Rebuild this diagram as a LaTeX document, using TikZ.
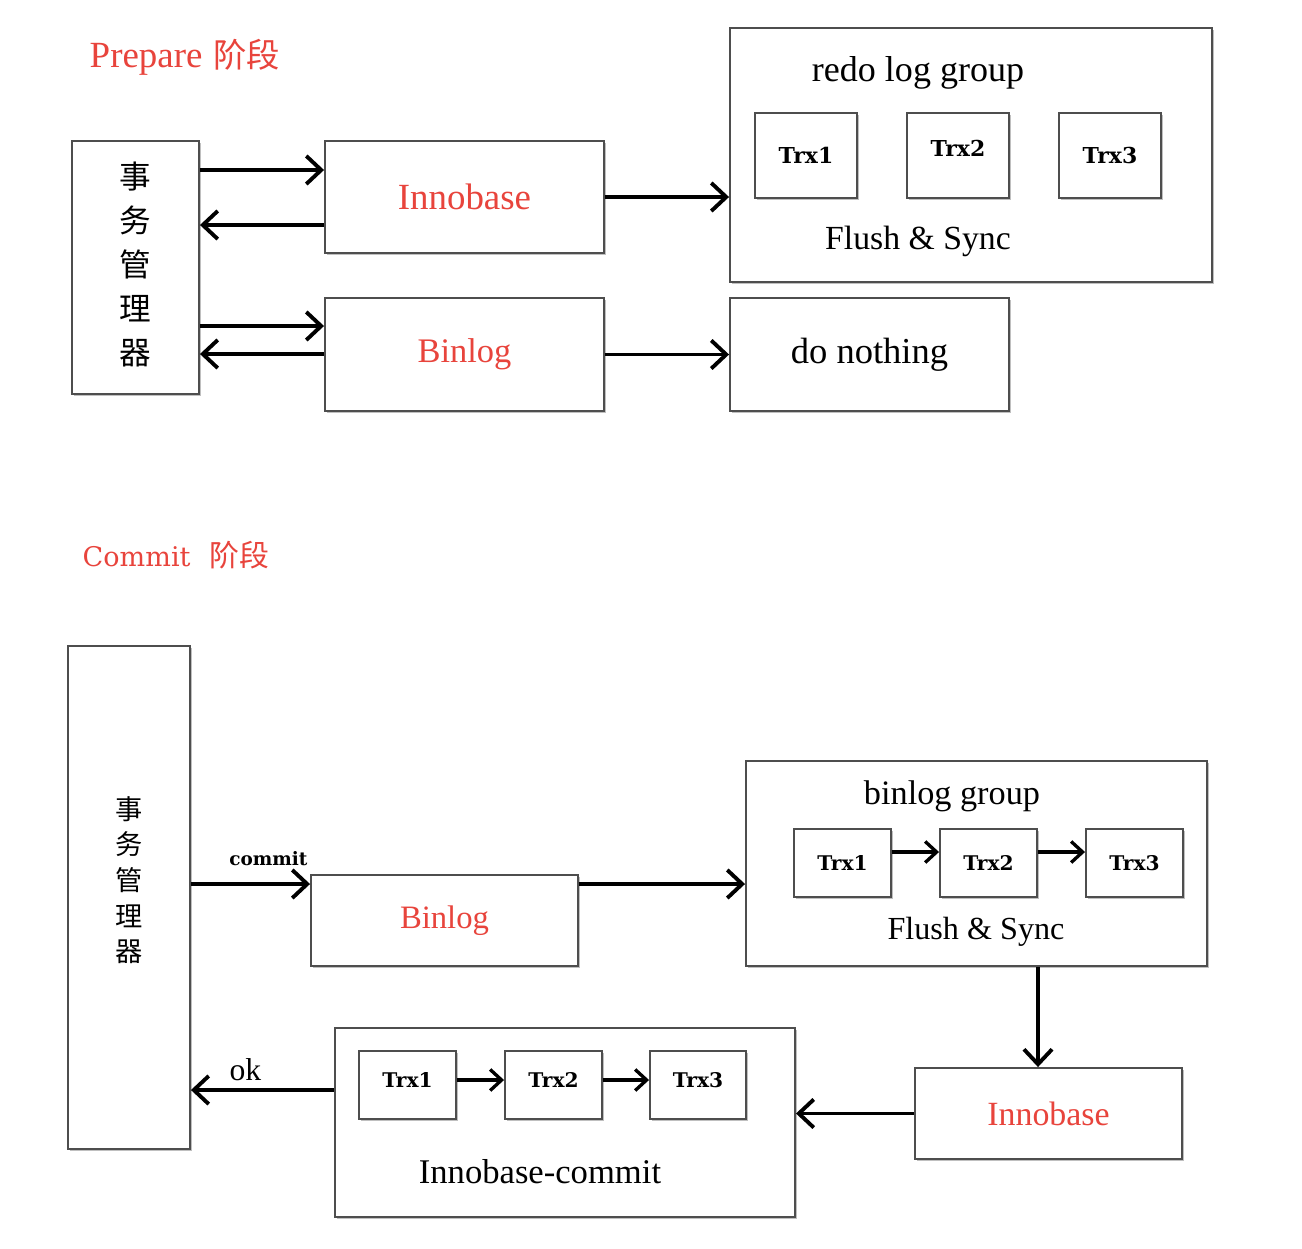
\documentclass[tikz,border=0pt]{standalone}
\usepackage{fontspec}
\setmainfont{Liberation Serif}
\newfontfamily\cjk{Noto Sans CJK SC}
\newfontfamily\slab{DejaVu Serif}
\usetikzlibrary{arrows.meta,positioning,shadows}
\definecolor{stagered}{RGB}{232,68,60}
\definecolor{boxgray}{RGB}{78,78,78}
% name, x, y, width, height, text
\newcommand{\drawBox}[6]{
\node [box,minimum width=#4*0.02cm,minimum height=#5*0.02cm] (#1) at (#2,#3) {#6};
}
\newcommand{\fs}[1]{\fontsize{#1}{1.2\dimexpr#1pt\relax}\selectfont}
\newcommand{\trxA}{\slab\bfseries\fontsize{12.5}{15}\selectfont}
\newcommand{\trxB}{\slab\bfseries\fontsize{11.5}{14}\selectfont}
% vertical label of the transaction manager
\newcommand{\tmText}[2]{{\cjk\fontsize{#1}{#2}\selectfont
\begin{tabular}{@{}c@{}}事\\务\\管\\理\\器\end{tabular}}}

\begin{document}
\begin{tikzpicture}[x=0.02cm,y=-0.02cm,
  box/.style={draw=boxgray,line width=1.1pt,fill=white,inner sep=0pt,align=center,
    drop shadow={shadow xshift=1pt,shadow yshift=-1.3pt,fill=gray,opacity=0.5}},
  arr/.style={line width=2pt,-{Straight Barb[length=8.5pt,width=16pt,line width=2.2pt]}},
  tarr/.style={line width=1.8pt,-{Straight Barb[length=6.5pt,width=12pt,line width=1.9pt]}},
  red/.style={text=stagered}]
\useasboundingbox (0,0) rectangle (1302,1248);
%
% Prepare
\node [red,font=\fs{21}] (prepTitle) at (185,57) {Prepare\hspace{0.3em}{\cjk\fs{19}阶段}};
\drawBox{tmA}{135.5}{267.5}{127}{253}{\tmText{18}{25}}
\drawBox{innoA}{464.5}{197}{279}{112}{\textcolor{stagered}{\fs{21}Innobase}}
\drawBox{binA}{464.5}{354.5}{279}{113}{\textcolor{stagered}{\fs{19.6}Binlog}}
\drawBox{redoA}{971}{155}{482}{254}{}
\drawBox{doNothing}{869.5}{354.5}{279}{113}{\fs{20.8}do nothing}
\drawBox{trxA1}{806}{155.5}{102}{85}{\trxA Trx1}
\drawBox{trxA2}{958}{155.5}{102}{85}{\trxA\raisebox{8pt}{Trx2}}
\drawBox{trxA3}{1110}{155.5}{102}{85}{\trxA Trx3}
\node [font=\fs{20.5}] (redoTitle) at (918,73) {redo log group};
\node [font=\fs{19.2}] (redoSync) at (918,241) {Flush \& Sync};
%
\draw [arr] (tmA.east |- 0,170) -- (innoA.west |- 0,170);
\draw [arr] (innoA.west |- 0,225) -- (tmA.east |- 0,225);
\draw [arr] (tmA.east |- 0,326) -- (binA.west |- 0,326);
\draw [arr] (binA.west |- 0,354) -- (tmA.east |- 0,354);
\draw [arr] (innoA.east) -- (redoA.west |- innoA.east);
\draw [arr] (binA.east) -- (doNothing.west);
%
% Commit
\node [red,font=\slab\fs{15.4}] (comTitle) at (176,555) {Commit\hspace{0.7em}{\cjk\fs{17}阶段}};
\drawBox{tmB}{129}{897.5}{122}{503}{\raisebox{8pt}[\dimexpr\height+8pt\relax][\dimexpr\depth+8pt\relax]{\tmText{15.5}{20.3}}}
\drawBox{binB}{444.5}{920.5}{267}{91}{\textcolor{stagered}{\fs{18.6}Binlog}}
\drawBox{groupB}{976.5}{863.5}{461}{205}{}
\drawBox{trxB1}{842.5}{863}{97}{68}{\trxB Trx1}
\drawBox{trxB2}{988.5}{863}{97}{68}{\trxB Trx2}
\drawBox{trxB3}{1134.5}{863}{97}{68}{\trxB Trx3}
\node [font=\fs{19.5}] (groupTitle) at (952,796) {binlog group};
\node [font=\fs{18.3}] (groupSync) at (976,932) {Flush \& Sync};
\drawBox{innoB}{1048.5}{1113.5}{267}{91}{\textcolor{stagered}{\fs{19.3}Innobase}}
\drawBox{icB}{565}{1122.5}{460}{189}{}
\drawBox{trxC1}{407.5}{1085}{97}{68}{\trxB\raisebox{6pt}{Trx1}}
\drawBox{trxC2}{553.5}{1085}{97}{68}{\trxB\raisebox{6pt}{Trx2}}
\drawBox{trxC3}{698}{1085}{96}{68}{\trxB\raisebox{6pt}{Trx3}}
\node [font=\fs{19.7}] (icTitle) at (540,1172) {Innobase-commit};
%
\draw [arr] (tmB.east |- 0,884) -- (binB.west |- 0,884) node [pos=0.65,above=6pt,font=\slab\bfseries\fs{10.5}] (commitLbl) {commit};
\draw [arr] (binB.east |- 0,884) -- (groupB.west |- 0,884);
\draw [arr] (groupB.south -| 1038,0) -- (innoB.north -| 1038,0);
\draw [arr] (innoB.west) -- (icB.east |- innoB.west);
\draw [arr] (icB.west |- 0,1090) -- (tmB.east |- 0,1090) node [pos=0.62,above=1pt,font=\fs{18}] (okLbl) {ok};
\draw [tarr] (trxB1.east |- 0,852) -- (trxB2.west |- 0,852);
\draw [tarr] (trxB2.east |- 0,852) -- (trxB3.west |- 0,852);
\draw [tarr] (trxC1.east |- 0,1080) -- (trxC2.west |- 0,1080);
\draw [tarr] (trxC2.east |- 0,1080) -- (trxC3.west |- 0,1080);
\end{tikzpicture}
\end{document}
